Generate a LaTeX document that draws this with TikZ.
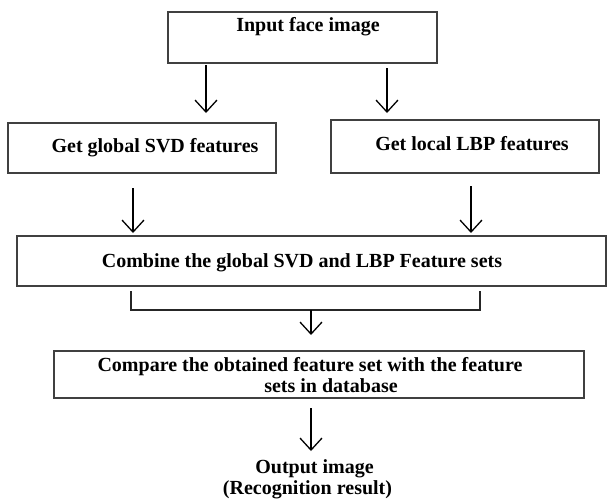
\documentclass[tikz,border=0pt]{standalone}
\usepackage{fontspec}
\setmainfont{Liberation Serif}
\usetikzlibrary{arrows.meta,calc}

\tikzset{
  stepbox/.style={draw=black!75, line width=1.3pt, rectangle, inner sep=0pt},
  lbl/.style={font=\bfseries\fontsize{20}{22}\selectfont, align=center, inner sep=0pt, anchor=base},
  arr/.style={draw=black, line width=1.3pt, -{Straight Barb[length=12pt,width=22pt,line width=1.3pt]}},
  joint/.style={draw=black!85, line width=1.8pt}
}

\begin{document}
\begin{tikzpicture}[x=1pt, y=-1pt]
  \useasboundingbox (0,0) rectangle (607,503);

  % boxes and their captions
  \node[stepbox, minimum width=269pt, minimum height=51pt] (input) at (302.5,37.5) {};
  \node[lbl] (inputT) at (308,32) {Input face image};

  \node[stepbox, minimum width=268pt, minimum height=50pt] (svd) at (142,148) {};
  \node[lbl] (svdT) at (155,152) {Get global SVD features};

  \node[stepbox, minimum width=268pt, minimum height=53pt] (lbp) at (465,146.5) {};
  \node[lbl] (lbpT) at (472,150) {Get local LBP features};

  \node[stepbox, minimum width=589pt, minimum height=50pt] (comb) at (311.5,261) {};
  \node[lbl] (combT) at (302,267) {Combine the global SVD and LBP Feature sets};

  \node[stepbox, minimum width=530pt, minimum height=47pt] (cmp) at (319,374.5) {};
  \node[lbl] (cmpT1) at (310,371) {Compare the obtained feature set with the feature};
  \node[lbl] (cmpT2) at (331,392) {sets in database};

  \node[lbl] (outT1) at (314.5,473) {Output image};
  \node[lbl] (outT2) at (307.5,494) {(Recognition result)};

  % arrow end points
  \coordinate (a1s) at (206,65);  \coordinate (a1e) at (206,113);
  \coordinate (a2s) at (387,68);  \coordinate (a2e) at (387,113);
  \coordinate (a3s) at (133,188); \coordinate (a3e) at (133,233);
  \coordinate (a4s) at (471,186); \coordinate (a4e) at (471,233);
  \coordinate (jl) at (131,291);  \coordinate (jr) at (480,291);
  \coordinate (jy) at (0,310);
  \coordinate (a5s) at (311,310); \coordinate (a5e) at (311,335);
  \coordinate (a6s) at (311,408); \coordinate (a6e) at (311,451);

  \draw[arr] (a1s) -- (a1e);
  \draw[arr] (a2s) -- (a2e);
  \draw[arr] (a3s) -- (a3e);
  \draw[arr] (a4s) -- (a4e);
  \draw[joint] (jl) -- (jl |- jy) -- (jr |- jy) -- (jr);
  \draw[arr] (a5s) -- (a5e);
  \draw[arr] (a6s) -- (a6e);
\end{tikzpicture}
\end{document}
